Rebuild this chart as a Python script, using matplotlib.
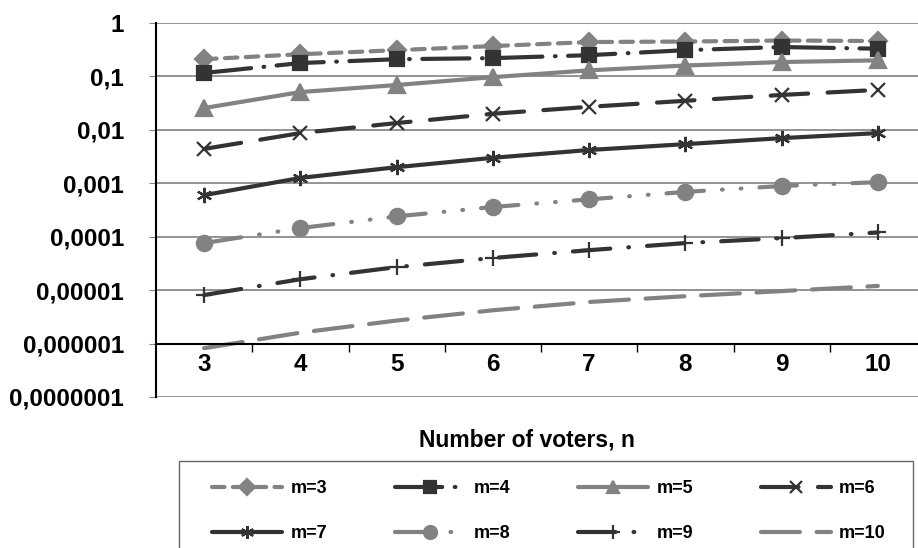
import numpy as np
import matplotlib
matplotlib.use('Agg')
import matplotlib.pyplot as plt
from matplotlib.patches import Rectangle

plt.rcParams['font.family'] = ['Liberation Sans', 'DejaVu Sans']
plt.rcParams['font.weight'] = 'bold'
plt.rcParams['lines.scale_dashes'] = False

# Данные
voters = [3, 4, 5, 6, 7, 8, 9, 10]
labels = ['m=3', 'm=4', 'm=5', 'm=6', 'm=7', 'm=8', 'm=9', 'm=10']
m3 = [0.21, 0.26, 0.31, 0.37, 0.44, 0.45, 0.47, 0.46]
m4 = [0.116, 0.178, 0.21, 0.22, 0.25, 0.31, 0.355, 0.33]
m5 = [0.0256, 0.051, 0.069, 0.097, 0.13, 0.16, 0.186, 0.2]
m6 = [0.0044, 0.0087, 0.0134, 0.02, 0.027, 0.035, 0.045, 0.056]
m7 = [0.0006, 0.00126, 0.002, 0.003, 0.0042, 0.0054, 0.007, 0.0087]
m8 = [7.6e-5, 1.45e-4, 2.4e-4, 3.6e-4, 5.0e-4, 6.9e-4, 8.9e-4, 1.05e-3]
m9 = [8.1e-6, 1.6e-5, 2.7e-5, 4.0e-5, 5.6e-5, 7.6e-5, 9.4e-5, 1.2e-4]
m10 = [8.2e-7, 1.6e-6, 2.7e-6, 4.2e-6, 6.0e-6, 7.7e-6, 9.6e-6, 1.2e-5]
series = [m3, m4, m5, m6, m7, m8, m9, m10]

y_ticks = [1e-7, 1e-6, 1e-5, 1e-4, 1e-3, 1e-2, 1e-1, 1]
y_labels = ['0,0000001', '0,000001', '0,00001', '0,0001', '0,001', '0,01', '0,1', '1']

gray = '#828282'
dark = '#333333'
# стиль каждой серии: цвет, штрихи, маркер, размер маркера
styles = [
    (gray, (0, (9, 6)), 'D', 9),
    (dark, (0, (34, 9, 0.5, 9)), 's', 10.5),
    (gray, '-', '^', 11),
    (dark, (0, (27, 14)), 'x', 10),
    (dark, '-', (6, 2, 0), 11),
    (gray, (0, (27, 13, 0.5, 13, 0.5, 13)), 'o', 11),
    (dark, (0, (27, 13, 0.5, 13)), '+', 12),
    (gray, (0, (28, 12)), None, 0),
]

W, H = 918, 548
fig = plt.figure(figsize=(W / 100, H / 100), dpi=100)
ax = fig.add_axes([156 / W, (H - 397) / H, (926 - 156) / W, (397 - 23) / H])

x = np.arange(len(voters))
handles = []
for vals, lab, (c, ls, mk, ms) in zip(series, labels, styles):
    ln, = ax.plot(x, vals, color=c, linestyle=ls, lw=3.0, marker=mk, ms=ms,
                  markerfacecolor=c, markeredgecolor=c, markeredgewidth=1.6,
                  dash_capstyle='round', solid_capstyle='round', label=lab, clip_on=False)
    handles.append(ln)

ax.set_yscale('log')
ax.set_ylim(1e-7, 1)
ax.set_xlim(-0.5, len(voters) - 0.5)
ax.set_yticks(y_ticks)
ax.set_yticklabels(y_labels)
ax.minorticks_off()
ax.yaxis.grid(True, color=gray, lw=1.2)
ax.set_axisbelow(True)

ax.set_xticks(x)
ax.set_xticklabels([str(v) for v in voters])
ax.set_xticks(np.arange(0.5, len(voters) - 0.5), minor=True)
ax.tick_params(axis='x', which='major', length=0, pad=7, labelsize=17.5)
ax.tick_params(axis='x', which='minor', length=6, direction='out', color='black', width=1)
ax.tick_params(axis='y', which='major', length=5, color=gray, pad=18, labelsize=17.5)

ax.spines['bottom'].set_position(('data', 1e-6))
ax.spines['bottom'].set_color('black')
ax.spines['bottom'].set_linewidth(1.5)
ax.spines['left'].set_color('black')
ax.spines['left'].set_linewidth(1.5)
ax.spines['top'].set_visible(False)
ax.spines['right'].set_visible(False)

fig.text(527 / W, 1 - 440 / H, 'Number of voters, n', ha='center', va='center',
         fontsize=16.5, fontweight='bold')

# рамка легенды
fig.patches.append(Rectangle((179 / W, 0 - 0.05), (913 - 179) / W, (H - 461) / H + 0.05,
                             transform=fig.transFigure, fill=False, edgecolor='#666666', lw=1))
# порядок по строкам, как в Excel
order = [0, 4, 1, 5, 2, 6, 3, 7]
leg = fig.legend([handles[i] for i in order], [labels[i] for i in order],
                 loc='upper left', bbox_to_anchor=(212 / W, 1 - 480 / H), ncol=4,
                 frameon=False, borderpad=0, borderaxespad=0, handlelength=3.9,
                 handletextpad=0.45, columnspacing=3.75, labelspacing=1.55,
                 prop={'size': 13, 'weight': 'bold'}, numpoints=1)
for h in leg.legend_handles:
    h.set_markersize(h.get_markersize() * 0.85)

fig.savefig('out.png', dpi=100)
